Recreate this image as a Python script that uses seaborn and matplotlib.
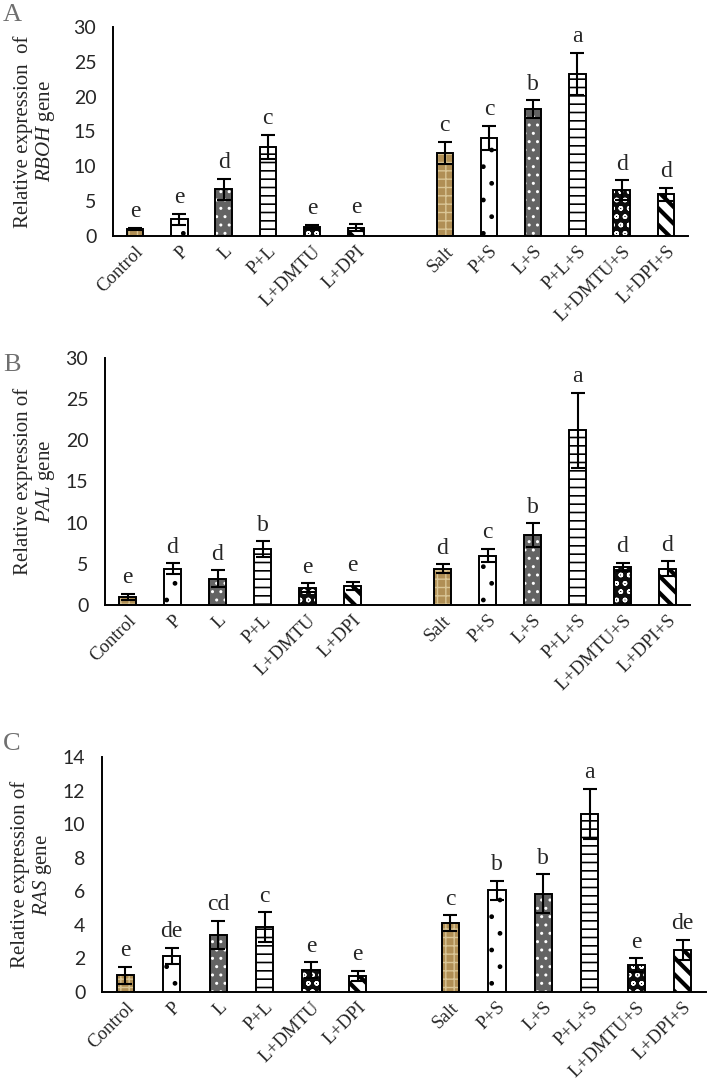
import numpy as np
import pandas as pd
import matplotlib
matplotlib.use('Agg')
import matplotlib.pyplot as plt
from matplotlib.patches import Rectangle
import seaborn as sns

# treatments in plotting order (a blank slot separates the salt group)
treatments = ['Control', 'P', 'L', 'P+L', 'L+DMTU', 'L+DPI',
              'Salt', 'P+S', 'L+S', 'P+L+S', 'L+DMTU+S', 'L+DPI+S']

rboh_mean = [1.0, 2.4, 6.7, 12.8, 1.3, 1.2, 11.9, 14.1, 18.2, 23.3, 6.6, 6.0]
rboh_err = [0.2, 0.75, 1.5, 1.7, 0.35, 0.55, 1.6, 1.7, 1.3, 3.0, 1.4, 0.95]
rboh_letters = ['e', 'e', 'd', 'c', 'e', 'e', 'c', 'c', 'b', 'a', 'd', 'd']

pal_mean = [1.0, 4.4, 3.2, 6.8, 2.1, 2.3, 4.4, 6.0, 8.5, 21.2, 4.6, 4.4]
pal_err = [0.35, 0.65, 1.0, 0.95, 0.55, 0.5, 0.55, 0.8, 1.4, 4.6, 0.5, 0.9]
pal_letters = ['e', 'd', 'd', 'b', 'e', 'e', 'd', 'c', 'b', 'a', 'd', 'd']

ras_mean = [1.0, 2.15, 3.4, 3.85, 1.3, 0.95, 4.1, 6.05, 5.85, 10.6, 1.6, 2.5]
ras_err = [0.5, 0.47, 0.83, 0.9, 0.48, 0.3, 0.48, 0.57, 1.17, 1.5, 0.4, 0.6]
ras_letters = ['e', 'de', 'cd', 'c', 'e', 'e', 'c', 'b', 'b', 'a', 'e', 'de']

order = treatments[:6] + [' '] + treatments[6:]

# fill style per treatment type: facecolor, hatch, hatch colour, hatch width
fills = {
    'tan': ('#b08f55', '++', '#d9c595', 1.0),
    'dots': ('white', '.', 'black', 1.0),
    'grey': ('#636363', '..', 'white', 1.0),
    'lines': ('white', '--', 'black', 1.2),
    'black': ('#0d0d0d', 'oo', 'white', 1.0),
    'diag': ('white', '\\\\', 'black', 3.0),
}
kind = {'Control': 'tan', 'Salt': 'tan', 'P': 'dots', 'P+S': 'dots',
        'L': 'grey', 'L+S': 'grey', 'P+L': 'lines', 'P+L+S': 'lines',
        'L+DMTU': 'black', 'L+DMTU+S': 'black',
        'L+DPI': 'diag', 'L+DPI+S': 'diag'}

sns.set_theme(style='white')
plt.rcParams['font.family'] = ['Liberation Serif', 'DejaVu Serif']
plt.rcParams['mathtext.fontset'] = 'custom'
plt.rcParams['mathtext.rm'] = 'Liberation Serif'
plt.rcParams['mathtext.it'] = 'Liberation Serif:italic'


def draw_panel(ax, means, errs, letters, ymax, step, ylabel, labx):
    df = pd.DataFrame({'treatment': treatments, 'value': means})
    sns.barplot(data=df, x='treatment', y='value', order=order, width=0.37,
                errorbar=None, color='white', ax=ax)

    for patch in list(ax.patches):
        idx = int(round(patch.get_x() + patch.get_width() / 2))
        fc, hatch, hc, hlw = fills[kind[order[idx]]]
        patch.set_facecolor(fc)
        patch.set_hatch(hatch)
        patch.set_edgecolor(hc)
        patch.set_linewidth(0)
        if hasattr(patch, 'set_hatch_linewidth'):
            patch.set_hatch_linewidth(hlw)
        ax.add_patch(Rectangle((patch.get_x(), patch.get_y()),
                               patch.get_width(), patch.get_height(),
                               fill=False, edgecolor='black', linewidth=1.4,
                               zorder=patch.get_zorder() + 0.1))

    xpos = [order.index(t) for t in treatments]
    ax.errorbar(xpos, means, yerr=errs, fmt='none', ecolor='black',
                elinewidth=1.5, capsize=5, capthick=1.5, zorder=5)
    for x, m, e, lab in zip(xpos, means, errs, letters):
        ax.annotate(lab, (x, m + e), xytext=(0, 4), textcoords='offset points',
                    ha='center', va='bottom', fontsize=17)

    ax.set_xlim(-0.5, len(order) - 0.5)
    ax.set_ylim(0, ymax)
    ax.set_yticks(np.arange(0, ymax + 0.01, step))
    ax.set_xticks(range(len(order)))
    ax.set_xticklabels(order, rotation=45, ha='right', rotation_mode='anchor',
                       fontsize=13.5)
    for lbl in ax.get_yticklabels():
        lbl.set_fontfamily('Lato')
        lbl.set_fontsize(14)
    ax.tick_params(axis='y', length=0, pad=12)
    ax.tick_params(axis='x', length=0, pad=5)
    sns.despine(ax=ax)
    for side in ['left', 'bottom']:
        ax.spines[side].set_color('black')
        ax.spines[side].set_linewidth(1.4)
    ax.set_xlabel('')
    ax.set_ylabel(ylabel, fontsize=15, linespacing=1.05)
    ax.yaxis.set_label_coords(labx, 0.5)


fig = plt.figure(figsize=(7.11, 10.82), dpi=100)
W, H = 711, 1082
ax_a = fig.add_axes([113 / W, 1 - 236 / H, 575 / W, 209 / H])
ax_b = fig.add_axes([105 / W, 1 - 605 / H, 585 / W, 247 / H])
ax_c = fig.add_axes([102 / W, 1 - 992 / H, 604 / W, 235 / H])

draw_panel(ax_a, rboh_mean, rboh_err, rboh_letters, 30, 5,
           'Relative expression  of\n$\\it{RBOH}$ gene', -0.097)
draw_panel(ax_b, pal_mean, pal_err, pal_letters, 30, 5,
           'Relative expression of\n$\\it{PAL}$ gene', -0.082)
draw_panel(ax_c, ras_mean, ras_err, ras_letters, 14, 2,
           'Relative expression of\n$\\it{RAS}$ gene', -0.08)

for tag, ypix in [('A', 15), ('B', 365), ('C', 744)]:
    fig.text(3 / W, 1 - ypix / H, tag, color='#6f6f6f', fontsize=19,
             ha='left', va='center')

fig.savefig('out.png', dpi=100)
